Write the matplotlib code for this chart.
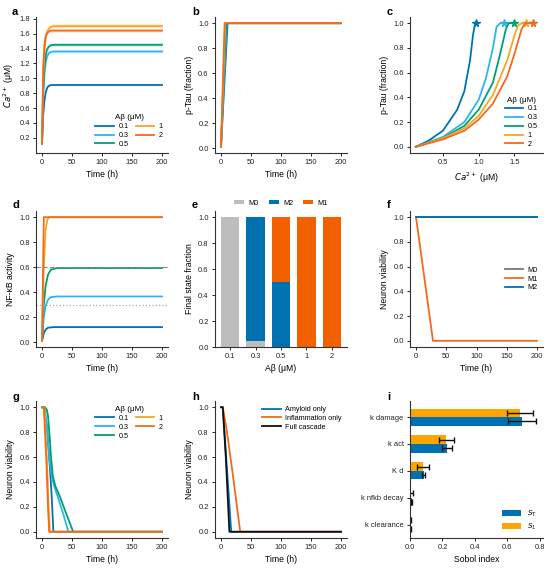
import matplotlib
matplotlib.use('Agg')
import matplotlib.pyplot as plt
import numpy as np

plt.rcParams['font.family'] = ['Liberation Sans', 'DejaVu Sans']
plt.rcParams['font.size'] = 5.5
plt.rcParams['axes.linewidth'] = 0.8
plt.rcParams['axes.edgecolor'] = '#333333'
plt.rcParams['xtick.major.size'] = 2.5
plt.rcParams['ytick.major.size'] = 2.5
plt.rcParams['xtick.major.width'] = 0.7
plt.rcParams['ytick.major.width'] = 0.7
plt.rcParams['xtick.labelsize'] = 5.4
plt.rcParams['ytick.labelsize'] = 5.4
plt.rcParams['axes.labelsize'] = 6.2
plt.rcParams['axes.labelpad'] = 3
plt.rcParams['mathtext.fontset'] = 'dejavusans'

# ---- data ----
abeta_labels = ['0.1', '0.3', '0.5', '1', '2']
abeta_colors = ['#0072B2', '#2DB5EE', '#009E73', '#F5A623', '#F26A1E']

# a: calcium vs time
t_a = [0, 2, 4, 6, 8, 10, 12, 15, 20, 30, 200]
ca_01 = [0.12, 0.50, 0.70, 0.80, 0.86, 0.89, 0.90, 0.91, 0.91, 0.91, 0.91]
ca_03 = [0.12, 0.75, 1.05, 1.20, 1.28, 1.32, 1.34, 1.355, 1.36, 1.36, 1.36]
ca_05 = [0.12, 0.85, 1.15, 1.30, 1.38, 1.41, 1.43, 1.445, 1.45, 1.45, 1.45]
ca_1 = [0.12, 1.00, 1.35, 1.52, 1.61, 1.65, 1.67, 1.69, 1.70, 1.70, 1.70]
ca_2 = [0.12, 1.15, 1.45, 1.56, 1.60, 1.62, 1.63, 1.64, 1.64, 1.64, 1.64]
ca_band = [0.01, 0.02, 0.025, 0.04, 0.02]

# b: p-Tau vs time
t_b_01 = [0, 11, 200]
t_b_03 = [0, 9.5, 200]
t_b_05 = [0, 8.5, 200]
t_b_1 = [0, 7, 200]
t_b_2 = [0, 6, 200]
ptau_b = [0.01, 1.0, 1.0]

# c: p-Tau vs calcium
c_ca_01 = [0.12, 0.30, 0.50, 0.70, 0.80, 0.88, 0.92, 0.95, 0.96]
c_pt_01 = [0.0, 0.05, 0.13, 0.30, 0.45, 0.70, 0.90, 1.0, 1.0]
c_ca_03 = [0.12, 0.50, 0.80, 1.00, 1.10, 1.20, 1.25, 1.30, 1.36]
c_pt_03 = [0.0, 0.08, 0.20, 0.38, 0.55, 0.80, 0.97, 1.0, 1.0]
c_ca_05 = [0.12, 0.50, 0.80, 1.00, 1.20, 1.30, 1.38, 1.42, 1.49]
c_pt_05 = [0.0, 0.07, 0.17, 0.30, 0.52, 0.75, 0.95, 1.0, 1.0]
c_ca_1 = [0.12, 0.50, 0.80, 1.00, 1.20, 1.40, 1.50, 1.55, 1.60, 1.66]
c_pt_1 = [0.0, 0.07, 0.15, 0.25, 0.42, 0.70, 0.90, 0.98, 1.0, 1.0]
c_ca_2 = [0.12, 0.50, 0.80, 1.00, 1.20, 1.40, 1.50, 1.60, 1.65, 1.76]
c_pt_2 = [0.0, 0.06, 0.13, 0.22, 0.35, 0.57, 0.75, 0.95, 1.0, 1.0]

# d: NF-kB vs time
t_d_01 = [0, 3, 6, 10, 20, 200]
nf_01 = [0.01, 0.07, 0.10, 0.115, 0.12, 0.12]
t_d_03 = [0, 3, 6, 10, 15, 25, 200]
nf_03 = [0.01, 0.20, 0.29, 0.34, 0.36, 0.365, 0.365]
t_d_05 = [0, 3, 6, 10, 15, 25, 200]
nf_05 = [0.01, 0.30, 0.45, 0.54, 0.58, 0.593, 0.593]
t_d_1 = [0, 3, 6, 9, 12, 200]
nf_1 = [0.01, 0.60, 0.90, 0.98, 1.0, 1.0]
t_d_2 = [0, 3, 200]
nf_2 = [0.01, 1.0, 1.0]
nf_thr_high = 0.6
nf_thr_low = 0.3

# e: final microglia state fractions
frac_m0 = [1.0, 0.05, 0.0, 0.0, 0.0]
frac_m2 = [0.0, 0.95, 0.5, 0.0, 0.0]
frac_m1 = [0.0, 0.0, 0.5, 1.0, 1.0]

# f: viability by forced state
t_f = [0, 28, 200]
via_m0 = [1.0, 1.0, 1.0]
via_m1 = [1.0, 0.0, 0.0]
via_m2 = [1.0, 1.0, 1.0]

# g: viability vs time per Abeta
t_g_01 = [0, 3, 8, 12, 16, 19, 200]
via_g_01 = [1.0, 1.0, 0.85, 0.60, 0.30, 0.0, 0.0]
t_g_03 = [0, 5, 8, 12, 16, 20, 25, 35, 44, 200]
via_g_03 = [1.0, 0.98, 0.85, 0.60, 0.45, 0.37, 0.30, 0.15, 0.0, 0.0]
t_g_05 = [0, 5, 8, 10, 13, 15, 18, 22, 30, 40, 52, 200]
via_g_05 = [1.0, 1.0, 0.98, 0.93, 0.75, 0.60, 0.45, 0.37, 0.28, 0.15, 0.0, 0.0]
t_g_1 = [0, 4, 8, 11, 13, 200]
via_g_1 = [1.0, 1.0, 0.60, 0.20, 0.0, 0.0]
t_g_2 = [0, 3, 7, 10, 12, 200]
via_g_2 = [1.0, 1.0, 0.60, 0.20, 0.0, 0.0]

# h: pathway ablation
t_h_amy = [0, 3, 10, 17, 200]
via_amy = [1.0, 1.0, 0.50, 0.0, 0.0]
t_h_inf = [0, 3, 10, 20, 32, 200]
via_inf = [1.0, 1.0, 0.80, 0.45, 0.0, 0.0]
t_h_full = [0, 3, 8, 14, 200]
via_full = [1.0, 1.0, 0.60, 0.0, 0.0]

# i: Sobol indices
params = ['k damage', 'k act', 'K d', 'k nfkb decay', 'k clearance']
s_total = [0.69, 0.23, 0.085, 0.010, 0.003]
s_total_err = [0.085, 0.03, 0.010, 0.004, 0.002]
s_first = [0.68, 0.225, 0.083, 0.006, 0.003]
s_first_err = [0.08, 0.045, 0.037, 0.010, 0.005]

# ---- layout helpers ----
W, H = 550, 570
fig = plt.figure(figsize=(W / 100, H / 100), dpi=100)

cols = [(36, 168), (215, 347), (410, 543)]
rows = [(17, 153), (211, 347), (401, 538)]


def make_ax(r, c):
    x0, x1 = cols[c]
    y0, y1 = rows[r]
    ax = fig.add_axes([x0 / W, (H - y1) / H, (x1 - x0) / W, (y1 - y0) / H])
    ax.spines['top'].set_visible(False)
    ax.spines['right'].set_visible(False)
    ax.tick_params(colors='#222222', pad=2)
    return ax


def panel_label(x, y, s):
    fig.text(x / W, 1 - y / H, s, fontsize=8, fontweight='bold', va='center', ha='left')


leg_kw = dict(frameon=False, fontsize=5.2, handlelength=2.6, handletextpad=0.6,
              labelspacing=0.25, borderpad=0.2)
lw = 1.3

# a
ax = make_ax(0, 0)
series_a = [ca_01, ca_03, ca_05, ca_1, ca_2]
for vals, band, col, lab in zip(series_a, ca_band, abeta_colors, abeta_labels):
    v = np.array(vals)
    ax.fill_between(t_a, v - band, v + band, color=col, alpha=0.15, lw=0)
    ax.plot(t_a, v, color=col, lw=lw, label=lab)
ax.set_yticks([0.2, 0.4, 0.6, 0.8, 1.0, 1.2, 1.4, 1.6, 1.8])
ax.set_xticks([0, 50, 100, 150, 200])
ax.set_xlabel('Time (h)')
ax.set_ylabel(r'$Ca^{2+}$ (μM)', labelpad=2)
lg = ax.legend(title='Aβ (μM)', ncol=2, loc='lower right', columnspacing=1.0, **leg_kw)
lg.get_title().set_fontsize(5.8)
panel_label(12, 12, 'a')

# b
ax = make_ax(0, 1)
for tt, col in zip([t_b_01, t_b_03, t_b_05, t_b_1, t_b_2], abeta_colors):
    ax.plot(tt, ptau_b, color=col, lw=lw)
ax.set_xticks([0, 50, 100, 150, 200])
ax.set_yticks([0, 0.2, 0.4, 0.6, 0.8, 1.0])
ax.set_xlabel('Time (h)')
ax.set_ylabel('p-Tau (fraction)')
panel_label(192, 12, 'b')

# c
ax = make_ax(0, 2)
c_series = [(c_ca_01, c_pt_01), (c_ca_03, c_pt_03), (c_ca_05, c_pt_05),
            (c_ca_1, c_pt_1), (c_ca_2, c_pt_2)]
for (xx, yy), col, lab in zip(c_series, abeta_colors, abeta_labels):
    ax.plot(xx, yy, color=col, lw=lw, label=lab)
    ax.plot(xx[-1], yy[-1], marker='*', color=col, ms=5.5, ls='none')
ax.set_xticks([0.5, 1.0, 1.5])
ax.set_yticks([0, 0.2, 0.4, 0.6, 0.8, 1.0])
ax.set_xlim(0.04, 1.9)
ax.set_xlabel(r'$Ca^{2+}$ (μM)')
ax.set_ylabel('p-Tau (fraction)')
lg = ax.legend(title='Aβ (μM)', loc='lower right', **leg_kw)
lg.get_title().set_fontsize(5.8)
panel_label(387, 12, 'c')

# d
ax = make_ax(1, 0)
d_series = [(t_d_01, nf_01), (t_d_03, nf_03), (t_d_05, nf_05), (t_d_1, nf_1), (t_d_2, nf_2)]
for (tt, vv), col in zip(d_series, abeta_colors):
    ax.plot(tt, vv, color=col, lw=lw)
ax.axhline(nf_thr_high, color='#888888', lw=0.8, ls=(0, (4, 2)))
ax.axhline(nf_thr_low, color='#AAAAAA', lw=0.9, ls=':')
ax.set_xticks([0, 50, 100, 150, 200])
ax.set_yticks([0, 0.2, 0.4, 0.6, 0.8, 1.0])
ax.set_xlabel('Time (h)')
ax.set_ylabel('NF-κB activity')
panel_label(12, 205, 'd')

# e
ax = make_ax(1, 1)
xpos = np.arange(len(abeta_labels))
m0 = np.array(frac_m0)
m2 = np.array(frac_m2)
m1 = np.array(frac_m1)
ax.bar(xpos, m0, width=0.72, color='#BDBDBD', label='M0')
ax.bar(xpos, m2, width=0.72, bottom=m0, color='#0072B2', label='M2')
ax.bar(xpos, m1, width=0.72, bottom=m0 + m2, color='#F26000', label='M1')
ax.set_xticks(xpos)
ax.set_xticklabels(abeta_labels)
ax.set_xlim(-0.6, 4.6)
ax.set_ylim(0, 1.05)
ax.set_yticks([0, 0.2, 0.4, 0.6, 0.8, 1.0])
ax.set_xlabel('Aβ (μM)')
ax.set_ylabel('Final state fraction')
ax.legend(ncol=3, loc='lower center', bbox_to_anchor=(0.5, 1.0), frameon=False,
          fontsize=5.2, handlelength=1.4, handleheight=0.6, handletextpad=0.6,
          columnspacing=1.4, borderpad=0.1)
panel_label(192, 205, 'e')

# f
ax = make_ax(1, 2)
ax.plot(t_f, via_m0, color='#777777', lw=lw, label='M0')
ax.plot(t_f, via_m1, color='#F26A1E', lw=lw, label='M1')
ax.plot(t_f, via_m2, color='#0072B2', lw=lw, label='M2')
ax.set_xticks([0, 50, 100, 150, 200])
ax.set_yticks([0, 0.2, 0.4, 0.6, 0.8, 1.0])
ax.set_xlabel('Time (h)')
ax.set_ylabel('Neuron viability')
ax.legend(loc='center right', bbox_to_anchor=(1.0, 0.5), **leg_kw)
panel_label(387, 205, 'f')

# g
ax = make_ax(2, 0)
g_series = [(t_g_01, via_g_01), (t_g_03, via_g_03), (t_g_05, via_g_05),
            (t_g_1, via_g_1), (t_g_2, via_g_2)]
for (tt, vv), col, lab in zip(g_series, abeta_colors, abeta_labels):
    ax.plot(tt, vv, color=col, lw=lw, label=lab)
ax.set_xticks([0, 50, 100, 150, 200])
ax.set_yticks([0, 0.2, 0.4, 0.6, 0.8, 1.0])
ax.set_xlabel('Time (h)')
ax.set_ylabel('Neuron viability')
lg = ax.legend(title='Aβ (μM)', ncol=2, loc='upper right', columnspacing=1.0, **leg_kw)
lg.get_title().set_fontsize(5.8)
panel_label(12, 397, 'g')

# h
ax = make_ax(2, 1)
ax.plot(t_h_amy, via_amy, color='#0072B2', lw=lw, label='Amyloid only')
ax.plot(t_h_inf, via_inf, color='#F26A1E', lw=lw, label='Inflammation only')
ax.plot(t_h_full, via_full, color='#111111', lw=lw, label='Full cascade')
ax.set_xticks([0, 50, 100, 150, 200])
ax.set_yticks([0, 0.2, 0.4, 0.6, 0.8, 1.0])
ax.set_xlabel('Time (h)')
ax.set_ylabel('Neuron viability')
ax.legend(loc='upper right', **leg_kw)
panel_label(192, 397, 'h')

# i
ax = make_ax(2, 2)
ypos = np.arange(len(params))[::-1]
bh = 0.32
ax.barh(ypos - bh / 2, s_total, height=bh, xerr=s_total_err, color='#0072B2',
        label=r'$S_T$', error_kw=dict(ecolor='#111111', lw=1.0, capsize=2, capthick=1.0))
ax.barh(ypos + bh / 2, s_first, height=bh, xerr=s_first_err, color='#FFA500',
        label=r'$S_1$', error_kw=dict(ecolor='#111111', lw=1.0, capsize=2, capthick=1.0))
ax.set_yticks(ypos)
ax.set_yticklabels(params)
ax.set_ylim(-0.5, 4.6)
ax.set_xlim(0, 0.82)
ax.set_xticks([0, 0.2, 0.4, 0.6, 0.8])
ax.set_xlabel('Sobol index')
ax.legend(loc='lower right', frameon=False, fontsize=5.2, handlelength=2.6,
          handleheight=0.9, labelspacing=0.3)
panel_label(387, 397, 'i')

fig.savefig('out.png', dpi=100)
